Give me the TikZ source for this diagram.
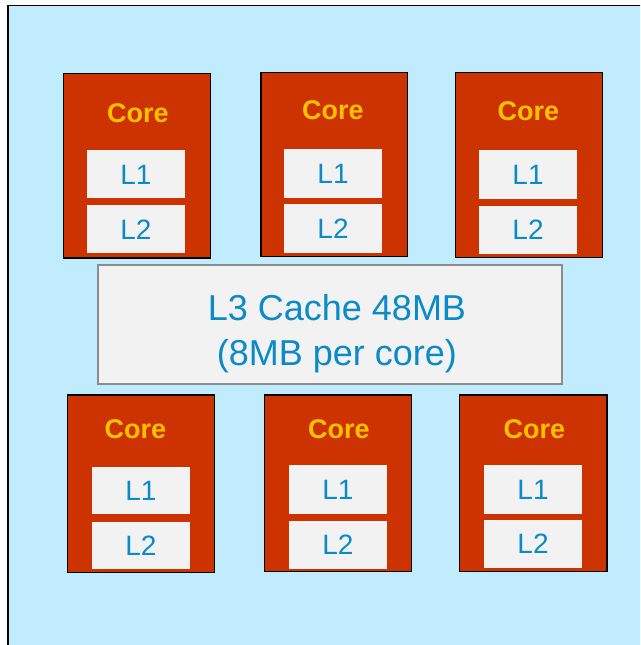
\documentclass[tikz,border=0pt]{standalone}
\usepackage{fontspec}
\setmainfont{Liberation Sans}
\usetikzlibrary{fit}
\definecolor{chipblue}{RGB}{192,236,254}
\definecolor{corered}{RGB}{204,51,0}
\definecolor{coregold}{RGB}{255,192,0}
\definecolor{cachegray}{RGB}{242,242,242}
\definecolor{cacheblue}{RGB}{10,138,200}
\definecolor{l3edge}{RGB}{140,140,140}
\begin{document}
\begin{tikzpicture}[x=1pt,y=-1pt,
  corebox/.style={draw=black,line width=1.5pt,fill=corered,inner sep=0pt},
  corelabel/.style={anchor=base,inner sep=0pt,text=coregold,font=\fontsize{27}{32}\selectfont\bfseries},
  cachebox/.style={fill=cachegray,inner sep=0pt},
  cachelabel/.style={anchor=center,inner sep=0pt,text=cacheblue,font=\fontsize{28}{34}\selectfont,text height=20pt,text depth=0pt},
  l3box/.style={draw=l3edge,line width=1.5pt,fill=cachegray,inner sep=0pt},
  l3label/.style={anchor=base,inner sep=0pt,text=cacheblue,font=\fontsize{36}{44}\selectfont}]
\clip (0,0) rectangle (640,645);
% die outline, running past the right and bottom edges
\node[fill=chipblue,draw=black,line width=1.5pt,inner sep=0pt,fit={(8,5.5)(680,680)}] (chip) {};
% six cores, each with private L1 and L2
\foreach \n/\xa/\ya/\xb/\yb/\la/\lb/\pa/\pb/\qa/\qb/\tx/\ty in {
 1/63.3/73.3/210.7/258/86.7/185/150/198.3/205/253.3/137.8/122.7,
 2/261/72.7/407.7/256.7/284/382/149/197.7/204/252.7/333/119.7,
 3/455.7/72.7/602.7/257.3/479/577/150/198.7/205.7/253.7/528.3/120.4,
 4/67.3/395/214.3/572.7/91.7/190/466.7/514.3/521.7/569.3/135.3/438,
 5/264.3/395/411.7/571.7/289/387/465/513.7/521/568.7/339/438,
 6/459.3/395/607/571.7/484/582/465/513.7/520/567.7/534.3/438}
{
 \node[corebox,fit={(\xa,\ya)(\xb,\yb)}] (core\n) {};
 \node[corelabel] (core\n name) at (\tx,\ty) {Core};
 \node[cachebox,fit={(\la,\pa)(\lb,\pb)}] (core\n l1) {};
 \node[cachelabel] (core\n l1text) at (core\n l1.center) {L1};
 \node[cachebox,fit={(\la,\qa)(\lb,\qb)}] (core\n l2) {};
 \node[cachelabel] (core\n l2text) at (core\n l2.center) {L2};
}
% shared last-level cache
\node[l3box,fit={(98,265)(562,384)}] (l3) {};
\node[l3label] (l3top) at (337,320) {L3 Cache 48MB};
\node[l3label] (l3bottom) at (337,365) {(8MB per core)};
\end{tikzpicture}
\end{document}
